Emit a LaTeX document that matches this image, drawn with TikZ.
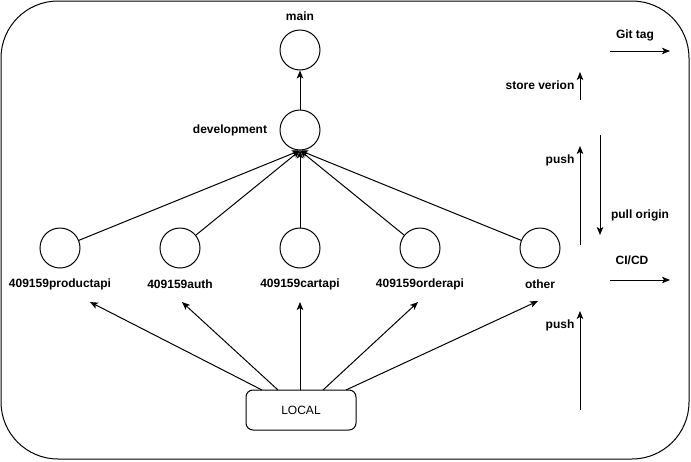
\documentclass[tikz,border=0pt]{standalone}
\usepackage{fontspec}
\setmainfont{Liberation Sans}
\usetikzlibrary{arrows.meta}
\begin{document}
\begin{tikzpicture}[x=1pt,y=-1pt,line width=1pt,
  circ/.style={circle,draw,minimum size=40pt,inner sep=0pt},
  lbl/.style={font=\fontsize{12}{14}\selectfont\bfseries,inner sep=0pt},
  arr/.style={-{Stealth[length=8pt,width=6.5pt,inset=2pt]}},
  box/.style={draw,rounded corners=7pt,minimum width=110pt,minimum height=40pt,inner sep=0pt,font=\fontsize{12}{14}\selectfont}]
\useasboundingbox (0,0) rectangle (691,461);
\draw[rounded corners=57pt] (1,1) rectangle (689,459);
% circles
\node[circ] (main) at (300,50) {};
\node[circ] (dev) at (300,130) {};
\node[circ] (prod) at (60,248) {};
\node[circ] (auth) at (180,248) {};
\node[circ] (cart) at (300,248) {};
\node[circ] (order) at (420,248) {};
\node[circ] (other) at (540,248) {};
% labels
\node[lbl] (lmain) at (300,16) {main};
\node[lbl] (ldev) at (230,130) {development};
\node[lbl] (lprod) at (60,284) {409159productapi};
\node[lbl] (lauth) at (180,284) {409159auth};
\node[lbl] (lcart) at (300,284) {409159cartapi};
\node[lbl] (lorder) at (420,284) {409159orderapi};
\node[lbl] (lother) at (540,284) {other};
% LOCAL
\node[box] (local) at (301,410) {LOCAL};
% connectors to development
\draw[arr] (dev) -- (main);
\foreach \n in {prod,auth,cart,order,other} \draw[arr] (\n) -- (dev.south);
% LOCAL arrows
\coordinate (tprod) at (90,302);
\coordinate (tauth) at (182,302);
\coordinate (tcart) at (300,302);
\coordinate (torder) at (418,302);
\coordinate (tother) at (538,301);
\coordinate (sprod) at (262,390);
\coordinate (sauth) at (278,390);
\coordinate (scart) at (300,390);
\coordinate (sorder) at (323,390);
\coordinate (sother) at (346,390);
\foreach \n in {prod,auth,cart,order,other} \draw[arr] (s\n) -- (t\n);
% right side
\coordinate (g1) at (610,51); \coordinate (g2) at (670,51);
\draw[arr] (g1) -- (g2);
\node[lbl] (lgit) at (635,35) {Git tag};
\coordinate (s1) at (580,100); \coordinate (s2) at (580,72);
\draw[arr] (s1) -- (s2);
\node[lbl] (lstore) at (540,85) {store verion};
\coordinate (p1) at (580,245); \coordinate (p2) at (580,146);
\draw[arr] (p1) -- (p2);
\node[lbl] (lpush1) at (560,160) {push};
\coordinate (o1) at (600,135); \coordinate (o2) at (600,235);
\draw[arr] (o1) -- (o2);
\node[lbl] (lpull) at (640,215) {pull origin};
\coordinate (c1) at (610,280); \coordinate (c2) at (670,280);
\draw[arr] (c1) -- (c2);
\node[lbl] (lci) at (632,260) {CI/CD};
\coordinate (q1) at (580,410); \coordinate (q2) at (580,311);
\draw[arr] (q1) -- (q2);
\node[lbl] (lpush2) at (560,325) {push};
\end{tikzpicture}
\end{document}
